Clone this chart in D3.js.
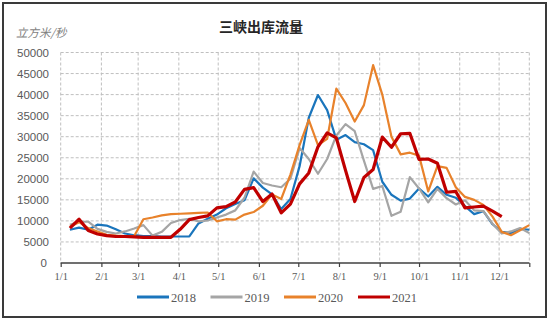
<!DOCTYPE html>
<html><head><meta charset="utf-8">
<script src="https://cdn.jsdelivr.net/npm/d3@7"></script>
<style>body{margin:0;background:#fff}svg{display:block}</style>
</head><body>
<svg id="c" width="550" height="323"></svg>
<script>
const title = "三峡出库流量";
const unitLabel = "立方米/秒";
const weeks = ["01-08","01-15","01-22","01-29","02-05","02-12","02-19","02-26","03-05","03-12","03-19","03-26",
"04-02","04-09","04-16","04-23","04-30","05-07","05-14","05-21","05-28","06-04","06-11","06-18","06-25",
"07-02","07-09","07-16","07-23","07-30","08-06","08-13","08-20","08-27","09-03","09-10","09-17","09-24",
"10-01","10-08","10-15","10-22","10-29","11-05","11-12","11-19","11-26","12-03","12-10","12-17","12-24"];
const monthTicks = ["01-01","02-01","03-01","04-01","05-01","06-01","07-01","08-01","09-01","10-01","11-01","12-01"];
const monthLabels = ["1/1","2/1","3/1","4/1","5/1","6/1","7/1","8/1","9/1","10/1","11/1","12/1"];
const yTicks = [0,5000,10000,15000,20000,25000,30000,35000,40000,45000,50000];
const seriesNames = ["2018","2019","2020","2021"];
const v2018 = [7900,8400,7900,9100,8900,8000,7000,6600,6400,6400,6300,6300,6300,6300,9400,10500,11500,13000,14000,14900,20100,17900,16300,12800,15200,23000,34500,39900,36300,29300,30400,28700,28200,26800,19300,16200,14800,15300,17700,15800,18100,16200,15500,13500,11600,12300,9200,7400,7100,8100,7900];
const v2019 = [9100,9800,9800,8100,7400,7000,7500,8200,9000,6500,7400,9500,10200,10500,9900,10100,10800,11500,12500,15500,21700,19000,18400,18000,20000,27300,24700,21200,24700,30300,33000,31300,24300,17600,18300,11200,12200,20400,17700,14400,17600,15400,13900,14900,12500,12300,9300,7000,7500,8300,7100];
const v2020 = [8600,9700,8300,7500,6700,6500,6400,6400,10400,10800,11300,11600,11700,11800,11900,12000,9900,10400,10300,11500,12100,13600,16300,15200,21000,28000,34000,28000,29500,41400,38000,33600,37500,47000,40000,30000,25800,26200,25500,17000,23000,22600,18000,15700,15000,13800,11000,7400,6600,7800,9000];
const v2021 = [8300,10400,7700,6900,6500,6300,6300,6200,6100,6100,6100,6100,8000,10300,10800,11200,13100,13400,14500,17500,17900,14600,16400,11900,14000,18800,21400,27600,30900,29700,22000,14600,20300,22200,29900,27500,30700,30800,24600,24700,23700,16800,17000,13100,13300,13500,12300,11000];
const colors = ["#1a75bc","#a5a5a5","#e8822b","#c00000"];
const widths = [2.2,2.2,2.2,3.2];

const svg = d3.select("#c");
const parse = s => d3.timeParse("%Y-%m-%d")("2021-" + s);
const x = d3.scaleTime().domain([parse("01-01"), parse("12-24")]).range([60.7, 529.3]);
const y = d3.scaleLinear().domain([0, 50000]).range([263, 52.5]);

// frame
svg.append("rect").attr("x",3).attr("y",3).attr("width",543).attr("height",314)
  .attr("fill","#fff").attr("stroke","#3a3a3a").attr("stroke-width",2);

// title
svg.append("text").attr("x",261).attr("y",32).attr("text-anchor","middle")
  .attr("font-family","'Noto Sans CJK SC'").attr("font-weight","bold").attr("font-size",14)
  .attr("fill","#262626").text(title);
svg.append("text").attr("x",16).attr("y",37)
  .attr("font-family","'Noto Sans CJK SC'").attr("font-size",11.5).attr("font-style","italic")
  .attr("fill","#7f7f7f").text(unitLabel);

// gridlines
const grid = svg.append("g").attr("stroke","#bfbfbf").attr("stroke-width",1).attr("stroke-dasharray","3,2");
grid.selectAll(".h").data(yTicks.filter(d=>d>0)).join("line")
  .attr("x1",60.7).attr("x2",529.3).attr("y1",d=>y(d)).attr("y2",d=>y(d));
const vGrid = monthTicks.map(parse).concat([parse("12-24")]);
grid.selectAll(".v").data(vGrid).join("line")
  .attr("x1",d=>x(d)).attr("x2",d=>x(d)).attr("y1",y(50000)).attr("y2",y(0));

// y axis labels
svg.append("g").selectAll("text").data(yTicks).join("text")
  .attr("x", d => d === 0 ? 47 : 49).attr("y", d => y(d)).attr("dy","0.35em")
  .attr("text-anchor","end")
  .attr("font-family","'Liberation Sans'").attr("font-size",11.5).attr("fill","#595959")
  .text(d => String(d));

// x axis
const xAxis = d3.axisBottom(x).tickValues(monthTicks.map(parse).concat([parse("12-24")]))
  .tickSize(4).tickPadding(6).tickFormat((d,i)=> i < monthLabels.length ? monthLabels[i] : "");
const gx = svg.append("g").attr("transform","translate(0,263)").call(xAxis);
gx.select(".domain").attr("stroke","#404040").attr("stroke-width",1.5).attr("d","M60.7,0H529.3");
gx.selectAll("line").attr("stroke","#404040").attr("stroke-width",1.2);
gx.selectAll("text").attr("font-family","'Liberation Serif'").attr("font-size",10.5).attr("fill","#595959");

// lines
const all = [v2018, v2019, v2020, v2021];
const line = d3.line().x((d,i)=>x(parse(weeks[i]))).y(d=>y(d));
svg.append("g").selectAll("path").data(all).join("path")
  .attr("d", d=>line(d)).attr("fill","none")
  .attr("stroke",(d,i)=>colors[i]).attr("stroke-width",(d,i)=>widths[i])
  .attr("stroke-linejoin","round");

// legend
const legendX = [137, 210.5, 284, 358];
const lg = svg.append("g").selectAll("g").data(seriesNames).join("g")
  .attr("transform",(d,i)=>`translate(${legendX[i]},297)`);
lg.append("line").attr("x1",0).attr("x2",32).attr("y1",0).attr("y2",0)
  .attr("stroke",(d,i)=>colors[i]).attr("stroke-width",3);
lg.append("text").attr("x",34).attr("y",4.5).attr("font-family","'Liberation Serif'")
  .attr("font-size",12.5).attr("fill","#595959").text(d=>d);
</script>
</body></html>
